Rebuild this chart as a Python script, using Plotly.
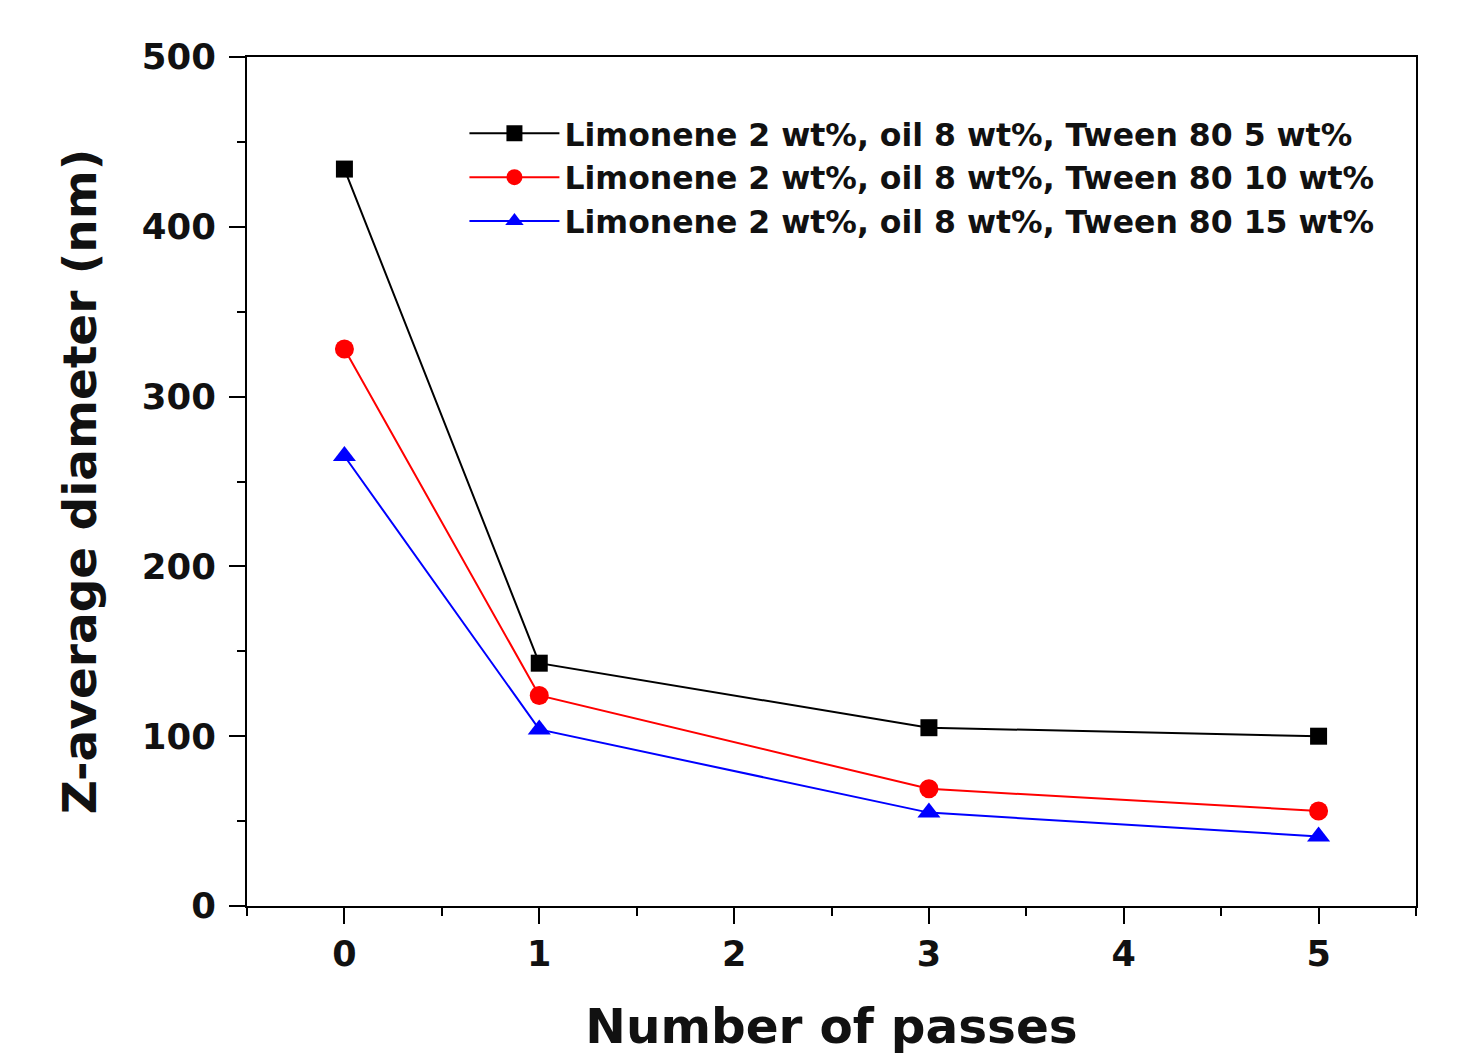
import plotly.graph_objects as go

passes = [0, 1, 3, 5]
series_names = [
    "Limonene 2 wt%, oil 8 wt%, Tween 80 5 wt%",
    "Limonene 2 wt%, oil 8 wt%, Tween 80 10 wt%",
    "Limonene 2 wt%, oil 8 wt%, Tween 80 15 wt%",
]
tween5 = [434, 143, 105, 100]
tween10 = [328, 124, 69, 56]
tween15 = [265, 104, 55, 41]

colors = ["#000000", "#ff0000", "#0000ff"]
symbols = ["square", "circle", "triangle-up"]
sizes = [17, 19, 20]

fig = go.Figure()
for name, vals, c, s, sz in zip(series_names, [tween5, tween10, tween15], colors, symbols, sizes):
    fig.add_trace(go.Scatter(
        x=passes, y=vals, name=name, mode="lines+markers",
        line=dict(color=c, width=2),
        marker=dict(symbol=s, size=sz, color=c),
    ))

font_family = "DejaVu Sans, Liberation Sans, Arial, sans-serif"
fig.update_layout(
    width=1459, height=1055,
    margin=dict(l=247, r=43, t=57, b=149),
    paper_bgcolor="white", plot_bgcolor="white",
    font=dict(family=font_family, color="#000000"),
    showlegend=True,
    legend=dict(
        x=0.186, y=0.942, xanchor="left", yanchor="top",
        bgcolor="rgba(0,0,0,0)", borderwidth=0,
        font=dict(size=31.5, family=font_family, weight="bold", color="#111"),
        itemwidth=90, tracegroupgap=0,
    ),
    xaxis=dict(
        range=[-0.5, 5.5], tickmode="array", tickvals=[0, 1, 2, 3, 4, 5],
        ticks="outside", ticklen=16, tickwidth=2, tickcolor="#000",
        showline=True, linecolor="#000", linewidth=2, mirror=True,
        showgrid=False, zeroline=False,
        tickfont=dict(size=35, weight="bold", color="#111"),
        minor=dict(dtick=0.5, tick0=-0.5, ticks="outside", ticklen=8, tickwidth=2, tickcolor="#000", showgrid=False),
        title=dict(text="Number of passes", font=dict(size=48.5, weight="bold", color="#111"), standoff=36),
    ),
    yaxis=dict(
        range=[0, 500], tickmode="array", tickvals=[0, 100, 200, 300, 400, 500],
        ticks="outside", ticklen=16, tickwidth=2, tickcolor="#000",
        showline=True, linecolor="#000", linewidth=2, mirror=True,
        showgrid=False, zeroline=False, ticklabelstandoff=6,
        tickfont=dict(size=35.5, weight="bold", color="#111"),
        minor=dict(dtick=50, ticks="outside", ticklen=8, tickwidth=2, tickcolor="#000", showgrid=False),
        title=dict(text="Z-average diameter (nm)", font=dict(size=47, weight="bold", color="#111"), standoff=30),
    ),
)

fig.write_html("out.html")
